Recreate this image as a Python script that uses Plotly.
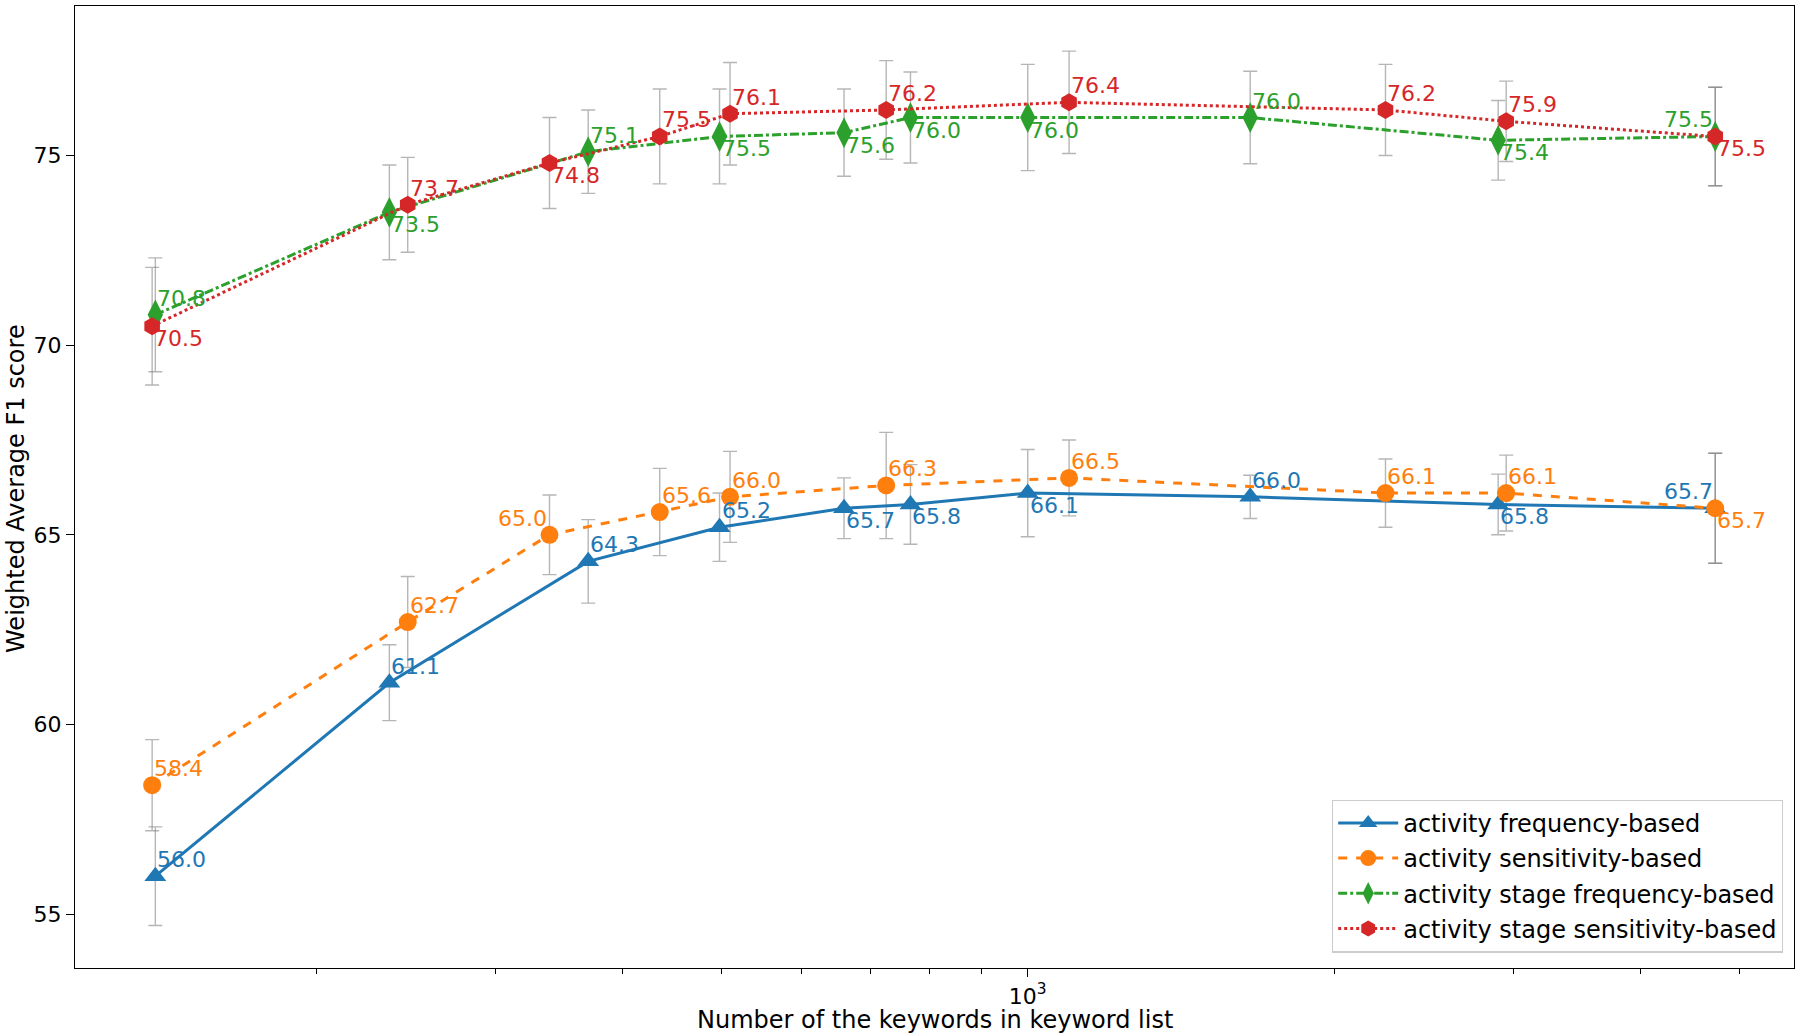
import math
import plotly.graph_objects as go

# ---- data ----
x_freq = [139, 236, 370, 498, 660, 767, 1000, 1654, 2898, 4735]
x_sens = [138, 246, 339, 435, 510, 726, 1098, 2246, 2951, 4735]

act_freq = [56.0, 61.1, 64.3, 65.2, 65.7, 65.8, 66.1, 66.0, 65.8, 65.7]
act_freq_err = [1.3, 1.0, 1.1, 0.9, 0.8, 1.05, 1.15, 0.57, 0.8, 1.45]

act_sens = [58.4, 62.7, 65.0, 65.6, 66.0, 66.3, 66.5, 66.1, 66.1, 65.7]
act_sens_err = [1.2, 1.2, 1.05, 1.15, 1.2, 1.4, 1.0, 0.9, 1.0, 1.45]

stage_freq = [70.8, 73.5, 75.1, 75.5, 75.6, 76.0, 76.0, 76.0, 75.4, 75.5]
stage_freq_err = [1.5, 1.25, 1.1, 1.25, 1.15, 1.2, 1.4, 1.22, 1.05, 1.3]

stage_sens = [70.5, 73.7, 74.8, 75.5, 76.1, 76.2, 76.4, 76.2, 75.9, 75.5]
stage_sens_err = [1.55, 1.25, 1.2, 1.25, 1.35, 1.3, 1.35, 1.2, 1.06, 1.3]

names = ["activity frequency-based", "activity sensitivity-based",
         "activity stage frequency-based", "activity stage sensitivity-based"]

# label placement: ar = above-right, br = below-right, al = above-left
pos_act_freq = ["ar", "ar", "ar", "ar", "br", "br", "br", "ar", "br", "al"]
pos_act_sens = ["ar", "ar", "al", "ar", "ar", "ar", "ar", "ar", "ar", "br"]
pos_stage_freq = ["ar", "br", "ar", "br", "br", "br", "br", "ar", "br", "al"]
pos_stage_sens = ["br", "ar", "br", "ar", "ar", "ar", "ar", "ar", "ar", "br"]

xtick_vals = [1000]
xtick_text = ["10<sup>3</sup>"]
xminor_vals = [200, 300, 400, 500, 600, 700, 800, 900, 2000, 3000, 4000, 5000]
ytick_vals = [55, 60, 65, 70, 75]

x_title = "Number of the keywords in keyword list"
y_title = "Weighted Average F1 score"

# ---- styles ----
colors = ["#1f77b4", "#ff7f0e", "#2ca02c", "#d62728"]
dashes = ["solid", "dash", "dashdot", "dot"]
symbols = ["triangle-up", "circle", "diamond-tall", "hexagon"]
msizes = [19, 18, 22, 18]

series = [
    (x_freq, act_freq, act_freq_err, pos_act_freq),
    (x_sens, act_sens, act_sens_err, pos_act_sens),
    (x_freq, stage_freq, stage_freq_err, pos_stage_freq),
    (x_sens, stage_sens, stage_sens_err, pos_stage_sens),
]

fig = go.Figure()

# error bars (grey, behind)
for (xs, ys, es, _) in series:
    fig.add_trace(go.Scatter(
        x=xs, y=ys, mode="markers", marker=dict(size=1, opacity=0),
        error_y=dict(type="data", array=es, color="rgba(110,110,110,0.5)",
                     thickness=1.4, width=7),
        showlegend=False, hoverinfo="skip"))

for i, (xs, ys, es, _) in enumerate(series):
    fig.add_trace(go.Scatter(
        x=xs, y=ys, mode="lines+markers", name=names[i],
        legendgroup=f"g{i}",
        line=dict(color=colors[i], width=3, dash=dashes[i]),
        marker=dict(symbol=symbols[i], size=msizes[i], color=colors[i],
                    line=dict(width=0))))

label_font = "DejaVu Sans"
annotations = []
for i, (xs, ys, es, ps) in enumerate(series):
    for xv, yv, p in zip(xs, ys, ps):
        if p == "ar":
            xa, ya, ys_ = "left", "bottom", 2
        elif p == "br":
            xa, ya, ys_ = "left", "top", 2
        else:
            xa, ya, ys_ = "right", "bottom", 2
        annotations.append(dict(
            x=math.log10(xv), y=yv, xref="x", yref="y",
            text=f"{yv:.1f}", showarrow=False, xanchor=xa, yanchor=ya,
            yshift=ys_,
            font=dict(family=label_font, size=22, color=colors[i])))

annotations.append(dict(
    x=0.5, y=-0.054, xref="paper", yref="paper", text=x_title,
    showarrow=False, xanchor="center", yanchor="middle",
    font=dict(family="DejaVu Sans", size=24, color="black")))
annotations.append(dict(
    x=-0.0343, y=0.498, xref="paper", yref="paper", text=y_title,
    showarrow=False, xanchor="center", yanchor="middle", textangle=-90,
    font=dict(family="DejaVu Sans", size=24, color="black")))

fig.update_layout(
    width=1800, height=1035,
    margin=dict(l=75, r=6, t=6, b=67),
    paper_bgcolor="white", plot_bgcolor="white",
    annotations=annotations,
    font=dict(family="DejaVu Sans", size=20, color="black"),
    legend=dict(x=0.9936, xanchor="right", y=0.016, yanchor="bottom",
                bgcolor="rgba(255,255,255,0.8)", bordercolor="#cccccc",
                borderwidth=1.2, font=dict(size=24, family="DejaVu Sans"),
                tracegroupgap=1, itemwidth=60),
    showlegend=True,
)

fig.update_xaxes(
    type="log", range=[2.0641, 3.7527], automargin=False,
    tickmode="array", tickvals=xtick_vals, ticktext=xtick_text,
    ticks="outside", ticklen=8, tickwidth=1.3, tickcolor="black",
    minor=dict(tickmode="array", tickvals=xminor_vals, ticks="outside",
               ticklen=5, tickwidth=1, tickcolor="black", showgrid=False),
    showgrid=False, zeroline=False,
    showline=True, linecolor="black", linewidth=1.3, mirror=True,
    tickfont=dict(size=22, family="DejaVu Sans"),
)
fig.update_yaxes(
    range=[53.58, 78.94], automargin=False,
    tickmode="array", tickvals=ytick_vals,
    ticks="outside", ticklen=8, tickwidth=1.3, tickcolor="black",
    showgrid=False, zeroline=False,
    showline=True, linecolor="black", linewidth=1.3, mirror=True,
    tickfont=dict(size=22, family="DejaVu Sans"),
)

fig.write_html("out.html",
               config={"displayModeBar": False},
               post_script="document.body.style.margin='0';"
                           "document.body.style.padding='0';")
